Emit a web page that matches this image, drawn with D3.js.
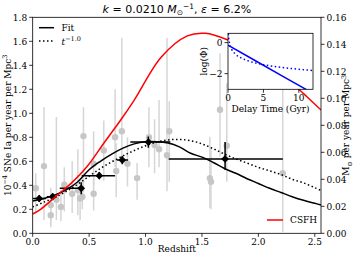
<!DOCTYPE html>
<html><head><meta charset="utf-8">
<script src="https://cdn.jsdelivr.net/npm/d3@7"></script>
<style>body{margin:0;background:#fff}svg{display:block}text{font-family:"DejaVu Serif",serif;fill:#000}</style>
</head><body><svg id="c" width="357" height="255"></svg>
<script>
// ---------- data ----------
const xTicks = [0, 0.5, 1.0, 1.5, 2.0, 2.5];
const yTicksLeft = [0, 0.2, 0.4, 0.6, 0.8, 1.0, 1.2, 1.4, 1.6, 1.8];
const yTicksRight = [0, 0.02, 0.04, 0.06, 0.08, 0.10, 0.12, 0.14, 0.16];

// grey literature points: redshift, rate, lower, upper
const litZ  = [0.027,0.10,0.16,0.16,0.21,0.25,0.28,0.35,0.40,0.42,0.44,0.45,0.54,0.54,0.63,0.73,0.74,0.79,0.84,0.925,1.03,1.08,1.12,1.19,1.21,1.57,1.58,1.66,1.72,2.216];
const litR  = [0.375,0.56,0.235,0.15,0.28,0.22,0.405,0.33,0.36,0.29,0.305,0.81,0.58,0.33,0.69,0.80,0.52,0.85,0.58,0.46,0.80,0.735,0.70,0.65,0.85,0.46,0.43,1.03,0.73,0.50];
const litLo = [0.17,0.11,0.07,0.05,0.11,0.10,0.18,0.17,0.15,0.11,0.20,0.34,0.40,0.19,0.44,0.55,0.30,0.63,0.39,0.28,0.55,0.50,0.55,0.35,0.43,0.21,0.20,0.64,0.43,0.01];
const litHi = [0.50,1.05,0.38,0.33,0.97,0.36,0.55,0.60,0.70,0.45,0.47,1.05,0.85,0.50,0.94,1.20,0.75,1.63,0.80,0.585,1.05,0.95,1.11,1.63,1.10,0.805,0.70,1.50,1.25,1.30];

// black binned points
const binZ   = [0.058,0.177,0.43,0.59,0.794,1.025,1.705];
const binR   = [0.29,0.305,0.375,0.48,0.61,0.76,0.62];
const binZlo = [0.0,0.124,0.24,0.434,0.745,0.865,1.205];
const binZhi = [0.118,0.213,0.45,0.73,0.845,1.22,2.217];
const binRlo = [0.26,0.28,0.325,0.45,0.575,0.713,0.53];
const binRhi = [0.32,0.33,0.425,0.51,0.645,0.807,0.76];

// fit curve (solid) and t^-1 curve (dotted)
const fitZ = [0,0.1,0.2,0.3,0.4,0.5,0.6,0.7,0.8,0.9,1.0,1.1,1.2,1.3,1.4,1.5,1.6,1.7,1.8,1.9,2.0,2.1,2.2,2.3,2.4,2.5,2.556];
const fitR = [0.27,0.29,0.32,0.365,0.43,0.53,0.60,0.66,0.71,0.745,0.762,0.763,0.752,0.72,0.667,0.635,0.59,0.54,0.50,0.455,0.415,0.375,0.34,0.305,0.275,0.25,0.236];
const powZ = [0,0.1,0.2,0.3,0.4,0.5,0.6,0.7,0.8,0.9,1.0,1.1,1.2,1.3,1.4,1.5,1.6,1.7,1.8,1.9,2.0,2.1,2.2,2.3,2.4,2.5,2.556];
const powR = [0.22,0.26,0.30,0.35,0.41,0.475,0.54,0.595,0.645,0.69,0.73,0.76,0.778,0.782,0.772,0.745,0.705,0.66,0.62,0.585,0.55,0.52,0.49,0.45,0.42,0.38,0.357];

// cosmic star formation history (right axis)
const sfhZ = [0,0.07,0.2,0.34,0.48,0.63,0.78,0.90,1.14,1.37,1.53,1.73,1.9,2.1,2.25,2.37,2.43,2.556];
const sfhV = [0.0143,0.0178,0.027,0.037,0.0493,0.0667,0.0839,0.0987,0.1306,0.1462,0.1481,0.1432,0.136,0.124,0.114,0.1058,0.1012,0.0913];

// inset: delay time distribution
const insXTicks = [0,5,10];
const insYTicks = [0,-2];
const dtdT = [0,4,8,12];
const dtdFit = [-0.17,-1.20,-2.24,-3.27];
const dtdPowT = [0.05,0.1,0.2,0.5,1,2,3,5,8,12];
const dtdPow = [0.58,0.28,-0.02,-0.42,-0.72,-1.02,-1.20,-1.42,-1.62,-1.80];

// ---------- drawing ----------
const svg = d3.select("#c");
const L=32.7, R=321, T=17.3, B=233.3;
const x = d3.scaleLinear().domain([0,2.555]).range([L,R]);
const y = d3.scaleLinear().domain([0,1.8]).range([B,T]);
const y2 = d3.scaleLinear().domain([0,0.16]).range([B,T]);
const FS = 9;

svg.append("clipPath").attr("id","pc").append("rect").attr("x",L).attr("y",T).attr("width",R-L).attr("height",B-T);
const g = svg.append("g").attr("clip-path","url(#pc)");

// grey points
litZ.forEach((z,i)=>{
  g.append("line").attr("x1",x(z)).attr("x2",x(z)).attr("y1",y(litLo[i])).attr("y2",y(litHi[i]))
   .attr("stroke","#d6d6d6").attr("stroke-width",1.5);
});
litZ.forEach((z,i)=>{
  g.append("circle").attr("cx",x(z)).attr("cy",y(litR[i])).attr("r",3.2).attr("fill","#c6c6c6");
});

// curves
const line = d3.line().curve(d3.curveCatmullRom);
g.append("path").attr("d",line(fitZ.map((z,i)=>[x(z),y(fitR[i])]))).attr("fill","none").attr("stroke","#000").attr("stroke-width",1.5);
g.append("path").attr("d",line(powZ.map((z,i)=>[x(z),y(powR[i])]))).attr("fill","none").attr("stroke","#000").attr("stroke-width",1.5).attr("stroke-dasharray","1.5,2.5");

// binned points
binZ.forEach((z,i)=>{
  g.append("line").attr("x1",x(binZlo[i])).attr("x2",x(binZhi[i])).attr("y1",y(binR[i])).attr("y2",y(binR[i])).attr("stroke","#000").attr("stroke-width",1.5);
  g.append("line").attr("x1",x(z)).attr("x2",x(z)).attr("y1",y(binRlo[i])).attr("y2",y(binRhi[i])).attr("stroke","#000").attr("stroke-width",1.5);
  g.append("path").attr("d",d3.symbol(d3.symbolSquare,30)()).attr("transform",`translate(${x(z)},${y(binR[i])}) rotate(45)`).attr("fill","#000");
});

// SFH
g.append("path").attr("d",line(sfhZ.map((z,i)=>[x(z),y2(sfhV[i])]))).attr("fill","none").attr("stroke","#ff0000").attr("stroke-width",1.5);

// axes
const ax = svg.append("g");
ax.append("rect").attr("x",L).attr("y",T).attr("width",R-L).attr("height",B-T).attr("fill","none").attr("stroke","#000").attr("stroke-width",0.8);
xTicks.forEach(t=>{
  ax.append("line").attr("x1",x(t)).attr("x2",x(t)).attr("y1",B).attr("y2",B+3.5).attr("stroke","#000").attr("stroke-width",0.8);
  ax.append("text").attr("x",x(t)).attr("y",B+12).attr("text-anchor","middle").attr("font-size",FS).text(d3.format(".1f")(t));
});
yTicksLeft.forEach(t=>{
  ax.append("line").attr("x1",L-3.5).attr("x2",L).attr("y1",y(t)).attr("y2",y(t)).attr("stroke","#000").attr("stroke-width",0.8);
  ax.append("text").attr("x",L-5.5).attr("y",y(t)+3.2).attr("text-anchor","end").attr("font-size",FS).text(d3.format(".1f")(t));
});
yTicksRight.forEach(t=>{
  ax.append("line").attr("x1",R).attr("x2",R+3.5).attr("y1",y2(t)).attr("y2",y2(t)).attr("stroke","#000").attr("stroke-width",0.8);
  ax.append("text").attr("x",R+5.5).attr("y",y2(t)+3.2).attr("text-anchor","start").attr("font-size",FS).text(d3.format(".2f")(t));
});
ax.append("text").attr("x",(L+R)/2).attr("y",252).attr("text-anchor","middle").attr("font-size",FS).text("Redshift");

// left y label
const yl = ax.append("text").attr("transform",`translate(10.5,${(T+B)/2}) rotate(-90)`).attr("text-anchor","middle").attr("font-size",FS);
yl.append("tspan").text("10");
yl.append("tspan").attr("dy",-3.5).attr("font-size",6.5).text("\u22124");
yl.append("tspan").attr("dy",3.5).text(" SNe Ia per year per Mpc");
yl.append("tspan").attr("dy",-3.5).attr("font-size",6.5).text("3");
// right y label
const yr = ax.append("text").attr("transform",`translate(349,${(T+B)/2}) rotate(-90)`).attr("text-anchor","middle").attr("font-size",FS);
yr.append("tspan").text("M");
yr.append("tspan").attr("dy",2.5).attr("font-size",6.5).text("\u2299");
yr.append("tspan").attr("dy",-2.5).text(" per year per Mpc");
yr.append("tspan").attr("dy",-3.5).attr("font-size",6.5).text("3");

// title
const tt = svg.append("text").attr("x",(L+R)/2).attr("y",12.5).attr("text-anchor","middle").attr("font-size",11).style("font-family","'DejaVu Sans',sans-serif");
tt.append("tspan").attr("font-style","italic").text("k");
tt.append("tspan").text(" = 0.0210 ");
tt.append("tspan").attr("font-style","italic").text("M");
tt.append("tspan").attr("dy",2.5).attr("font-size",7.5).text("\u2299");
tt.append("tspan").attr("dy",-6.5).attr("font-size",7.5).text("\u22121");
tt.append("tspan").attr("dy",4).text(",  ");
tt.append("tspan").attr("font-style","italic").text("\u03b5");
tt.append("tspan").text(" = 6.2%");

// legend top-left
const lg = svg.append("g");
lg.append("line").attr("x1",39).attr("x2",54).attr("y1",27.7).attr("y2",27.7).attr("stroke","#000").attr("stroke-width",1.5);
lg.append("text").attr("x",61.5).attr("y",31).attr("font-size",FS).text("Fit");
lg.append("line").attr("x1",39).attr("x2",54).attr("y1",41).attr("y2",41).attr("stroke","#000").attr("stroke-width",1.5).attr("stroke-dasharray","1.5,2.5");
const lt = lg.append("text").attr("x",61.5).attr("y",44.5).attr("font-size",FS);
lt.append("tspan").attr("font-style","italic").text("t");
lt.append("tspan").attr("dy",-4).attr("font-size",6.5).text("\u22121.0");
// legend CSFH
lg.append("line").attr("x1",267).attr("x2",283).attr("y1",220).attr("y2",220).attr("stroke","#ff0000").attr("stroke-width",1.5);
lg.append("text").attr("x",290).attr("y",223.3).attr("font-size",FS).text("CSFH");

// ---------- inset ----------
const iL=228, iR=313, iT=33.3, iB=89.3;
const ix = d3.scaleLinear().domain([0,12]).range([iL,iR]);
const iy = d3.scaleLinear().domain([-3.01,0.6]).range([iB,iT]);
const ins = svg.append("g");
ins.append("rect").attr("x",iL).attr("y",iT).attr("width",iR-iL).attr("height",iB-iT).attr("fill","#fff");
ins.append("clipPath").attr("id","ic").append("rect").attr("x",iL).attr("y",iT).attr("width",iR-iL).attr("height",iB-iT);
const ig = ins.append("g").attr("clip-path","url(#ic)");
ig.append("path").attr("d",d3.line()(dtdT.map((t,i)=>[ix(t),iy(dtdFit[i])]))).attr("fill","none").attr("stroke","#0000ff").attr("stroke-width",1.5);
ig.append("path").attr("d",d3.line().curve(d3.curveMonotoneX)(dtdPowT.map((t,i)=>[ix(t),iy(dtdPow[i])]))).attr("fill","none").attr("stroke","#0000ff").attr("stroke-width",1.5).attr("stroke-dasharray","1.5,2.5");
ins.append("rect").attr("x",iL).attr("y",iT).attr("width",iR-iL).attr("height",iB-iT).attr("fill","none").attr("stroke","#000").attr("stroke-width",0.8);
insXTicks.forEach(t=>{
  ins.append("line").attr("x1",ix(t)).attr("x2",ix(t)).attr("y1",iB).attr("y2",iB+3.5).attr("stroke","#000").attr("stroke-width",0.8);
  ins.append("text").attr("x",ix(t)).attr("y",iB+12).attr("text-anchor","middle").attr("font-size",FS).text(t);
});
insYTicks.forEach(t=>{
  ins.append("line").attr("x1",iL-3.5).attr("x2",iL).attr("y1",iy(t)).attr("y2",iy(t)).attr("stroke","#000").attr("stroke-width",0.8);
  ins.append("text").attr("x",iL-5.5).attr("y",iy(t)+3.2).attr("text-anchor","end").attr("font-size",FS).text(t<0?"\u2212"+(-t):t);
});
ins.append("text").attr("x",(iL+iR)/2).attr("y",111.5).attr("text-anchor","middle").attr("font-size",FS).text("Delay Time (Gyr)");
ins.append("text").attr("transform",`translate(207,${(iT+iB)/2}) rotate(-90)`).attr("text-anchor","middle").attr("font-size",FS).text("log(\u03a6)");
</script></body></html>
